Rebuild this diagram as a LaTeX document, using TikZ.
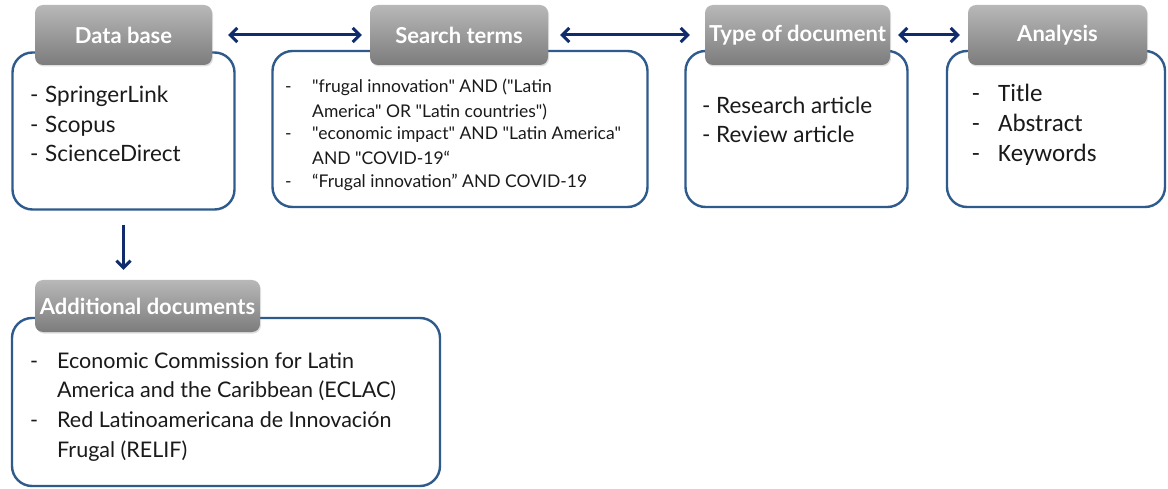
\documentclass[tikz,border=0pt]{standalone}
\usepackage{fontspec}
\setmainfont{Lato}[Ligatures=TeXOff]
\newfontfamily\calib{Carlito}
\usetikzlibrary{arrows.meta,shadows}
\definecolor{boxblue}{HTML}{2F5B8C}
\definecolor{arrnavy}{HTML}{102C6C}
\definecolor{hdtop}{HTML}{B8B8B8}
\definecolor{hdbot}{HTML}{7C7C7C}
\definecolor{txt}{HTML}{1A1A1A}
\tikzset{
  x=1pt,y=-1pt,
  bodybox/.style={draw=boxblue, line width=2.4pt, rounded corners=20pt, fill=white, inner sep=0pt},
  hdrbox/.style={rounded corners=8pt, top color=hdtop, bottom color=hdbot, draw=none,
     text=white, font=\fontsize{22}{24}\selectfont\bfseries, inner sep=0pt,
     drop shadow={shadow xshift=1pt, shadow yshift=-1.5pt, opacity=0.25}},
  itemA/.style={anchor=base west, inner sep=0pt, text=txt, font=\fontsize{22.5}{25}\selectfont},
  itemS/.style={anchor=base west, inner sep=0pt, text=txt, font=\fontsize{17.5}{20}\selectfont},
  itemC/.style={anchor=base west, inner sep=0pt, text=txt, font=\calib\fontsize{25}{28}\selectfont},
  itemD/.style={anchor=base west, inner sep=0pt, text=txt, font=\fontsize{21.5}{24}\selectfont},
  biarrow/.style={arrnavy, line width=3pt, {Straight Barb[length=7pt,width=14pt]}-{Straight Barb[length=7pt,width=14pt]}},
  onearrow/.style={arrnavy, line width=3pt, -{Straight Barb[length=7pt,width=14pt]}}
}
\begin{document}
\begin{tikzpicture}
\useasboundingbox (0,0) rectangle (1168,489);
% bodies
\node[bodybox, minimum width=222, minimum height=157] (b1) at (123.5,131) {};
\node[bodybox, minimum width=375, minimum height=156] (b2) at (460,129) {};
\node[bodybox, minimum width=222, minimum height=156] (b3) at (796.5,129) {};
\node[bodybox, minimum width=218, minimum height=156] (b4) at (1056,129) {};
\node[bodybox, minimum width=428, minimum height=168] (b5) at (226,402) {};
% headers
\node[hdrbox, minimum width=177, minimum height=60] (h1) at (123.5,35) {Data base};
\node[hdrbox, minimum width=178, minimum height=60] (h2) at (459,35) {Search terms};
\node[hdrbox, minimum width=185, minimum height=60] (h3) at (797.5,35) {Type of document};
\node[hdrbox, minimum width=179, minimum height=60] (h4) at (1057.5,35) {Analysis};
\node[hdrbox, minimum width=225, minimum height=52] (h5) at (147.5,306) {Additional documents};
% items box 1
\node[itemA] (a1) at (30,103) {\makebox[15pt][l]{-}SpringerLink};
\node[itemA] (a2) at (30,133) {\makebox[15pt][l]{-}Scopus};
\node[itemA] (a3) at (30,162) {\makebox[15pt][l]{-}ScienceDirect};
% items box 2
\node[itemS] (s1) at (285,93) {\makebox[27pt][l]{-}"frugal innovation" AND ("Latin};
\node[itemS] (s2) at (312,118) {America" OR "Latin countries")};
\node[itemS] (s3) at (285,140) {\makebox[27pt][l]{-}"economic impact" AND "Latin America"};
\node[itemS] (s4) at (312,165) {AND "COVID-19“};
\node[itemS] (s5) at (285,188) {\makebox[27pt][l]{-}“Frugal innovation” AND COVID-19};
% items box 3
\node[itemA] (t1) at (702,114) {\makebox[14pt][l]{-}Research article};
\node[itemA] (t2) at (702,143) {\makebox[14pt][l]{-}Review article};
% items box 4
\node[itemC] (n1) at (972,102) {\makebox[26pt][l]{-}Title};
\node[itemC] (n2) at (972,132) {\makebox[26pt][l]{-}Abstract};
\node[itemC] (n3) at (972,162) {\makebox[26pt][l]{-}Keywords};
% items box 5
\node[itemD] (e1) at (30,368) {\makebox[27pt][l]{-}Economic Commission for Latin};
\node[itemD] (e2) at (57,397) {America and the Caribbean (ECLAC)};
\node[itemD] (e3) at (30,427) {\makebox[27pt][l]{-}Red Latinoamericana de Innovación};
\node[itemD] (e4) at (57,457) {Frugal (RELIF)};
% connectors
\draw[biarrow, shorten <=16pt, shorten >=8pt] (h1.east) -- (h2.west);
\draw[biarrow, shorten <=12pt, shorten >=15pt] (h2.east) -- (h3.west);
\draw[biarrow, shorten <=8pt, shorten >=8pt] (h3.east) -- (h4.west);
\coordinate (dn) at (b1.south |- h5.north);
\draw[onearrow, shorten <=14pt, shorten >=10pt] (b1.south) -- (dn);
\end{tikzpicture}
\end{document}
